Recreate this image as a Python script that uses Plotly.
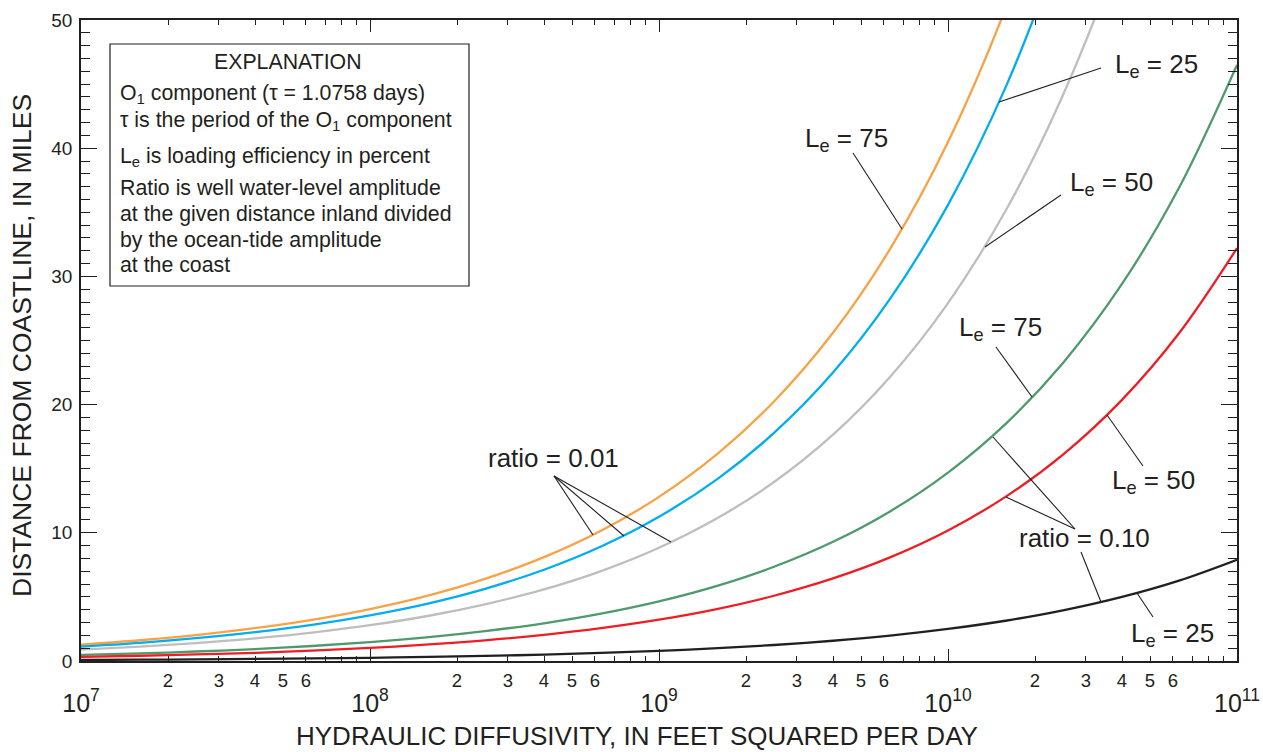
import plotly.graph_objects as go

# ---------------- data ----------------
diffusivity = [1.0e7, 1.6e7, 2.5e7, 4.0e7, 6.3e7,
               1.0e8, 1.6e8, 2.5e8, 4.0e8, 6.3e8,
               1.0e9, 1.6e9, 2.5e9, 4.0e9, 6.3e9,
               1.0e10, 1.6e10, 2.5e10, 4.0e10, 6.3e10,
               1.0e11]

r001_le75 = [1.28, 1.62, 2.02, 2.56, 3.21, 4.05, 5.12, 6.40, 8.10, 10.16, 12.80,
             16.19, 20.24, 25.60, 32.13, 40.48, 51.20, 64.00]
r001_le25 = [1.13, 1.42, 1.78, 2.25, 2.82, 3.56, 4.50, 5.63, 7.12, 8.93, 11.25,
             14.23, 17.79, 22.50, 28.24, 35.58, 45.00, 56.25]
r001_le50 = [0.88, 1.12, 1.40, 1.77, 2.22, 2.79, 3.53, 4.42, 5.58, 7.01, 8.83,
             11.17, 13.96, 17.66, 22.16, 27.92, 35.32, 44.15, 55.85, 70.09]
r010_le75 = [0.47, 0.59, 0.74, 0.93, 1.17, 1.47, 1.86, 2.33, 2.94, 3.69, 4.65,
             5.88, 7.35, 9.30, 11.67, 14.70, 18.60, 23.25, 29.41, 36.91, 46.50]
r010_le50 = [0.32, 0.41, 0.51, 0.64, 0.81, 1.02, 1.29, 1.61, 2.04, 2.56, 3.22,
             4.07, 5.09, 6.44, 8.08, 10.18, 12.88, 16.10, 20.37, 25.56, 32.20]
r010_le25 = [0.08, 0.10, 0.12, 0.16, 0.20, 0.25, 0.32, 0.40, 0.50, 0.63, 0.79,
             1.00, 1.25, 1.58, 1.98, 2.50, 3.16, 3.95, 5.00, 6.27, 7.90]

decade_vals = [1e7, 1e8, 1e9, 1e10, 1e11]
decade_text = ["10<sup>7</sup>", "10<sup>8</sup>", "10<sup>9</sup>",
               "10<sup>10</sup>", "10<sup>11</sup>"]
minor_digits = [2, 3, 4, 5, 6, 7, 8, 9]
minor_labels = ["2", "3", "4", "5", "6", "", "", ""]

# ---------------- styling ----------------
INK = "#231F20"
FONT = "Liberation Sans, Arial, Helvetica, sans-serif"
W, H = 1263, 752
L, R, T, B = 81, 26, 20, 91
PW, PH = W - L - R, H - T - B

series = [
    (r001_le75, "#F7A245"),
    (r001_le25, "#00AEEF"),
    (r001_le50, "#BEBEBE"),
    (r010_le75, "#4E9A6C"),
    (r010_le50, "#EE1D25"),
    (r010_le25, "#231F20"),
]

fig = go.Figure()
for vals, col in series:
    fig.add_trace(go.Scatter(
        x=diffusivity[:len(vals)], y=vals, mode="lines",
        line=dict(color=col, width=2.3, shape="spline", smoothing=1.0),
        showlegend=False, hoverinfo="skip"))

# helper trace for the decade axis
fig.add_trace(go.Scatter(x=[1e7, 1e11], y=[-10, -10], xaxis="x2", mode="lines",
                         line=dict(width=0), showlegend=False, hoverinfo="skip"))

minor_vals, minor_text = [], []
for d in decade_vals[:-1]:
    for k, t in zip(minor_digits, minor_labels):
        minor_vals.append(k * d)
        minor_text.append(t)


def px(x, y):
    return (x - L) / PW, (H - B - y) / PH


annotations = []
shapes = []

# explanation box
x0, y0 = px(110, 286)
x1, y1 = px(469, 44)
shapes.append(dict(type="rect", xref="paper", yref="paper", x0=x0, y0=y0, x1=x1, y1=y1,
                   line=dict(color=INK, width=1.2), fillcolor="rgba(0,0,0,0)"))

ex_font = dict(family=FONT, size=21.3, color=INK)
cx, cy = px(288, 62)
annotations.append(dict(text="EXPLANATION", x=cx, y=cy, xref="paper", yref="paper",
                        xanchor="center", yanchor="middle", showarrow=False, font=ex_font))
ex_lines = [
    ("O<sub>1</sub> component (\u03c4 = 1.0758 days)", 94),
    ("\u03c4 is the period of the O<sub>1</sub> component", 121),
    ("L<sub>e</sub> is loading efficiency in percent", 157),
    ("Ratio is well water-level amplitude", 188),
    ("at the given distance inland divided", 214),
    ("by the ocean-tide amplitude", 240),
    ("at the coast", 265),
]
for txt, yy in ex_lines:
    ax_, ay_ = px(118, yy)
    annotations.append(dict(text=txt, x=ax_, y=ay_, xref="paper", yref="paper",
                            xanchor="left", yanchor="middle", showarrow=False, font=ex_font))

# curve labels
lab_font = dict(family=FONT, size=26, color=INK)
labels = [
    ("L<sub>e</sub> = 75", 846, 139),
    ("L<sub>e</sub> = 25", 1156, 65),
    ("L<sub>e</sub> = 50", 1111, 183),
    ("ratio = 0.01", 553, 458),
    ("L<sub>e</sub> = 75", 1000, 329),
    ("L<sub>e</sub> = 50", 1153, 481),
    ("ratio = 0.10", 1084, 538),
    ("L<sub>e</sub> = 25", 1172, 634),
]
for txt, xx, yy in labels:
    ax_, ay_ = px(xx, yy)
    annotations.append(dict(text=txt, x=ax_, y=ay_, xref="paper", yref="paper",
                            xanchor="center", yanchor="middle", showarrow=False, font=lab_font))

# leader lines
leaders = [
    ((853, 153), (902, 229)),
    ((1101, 68), (999, 102)),
    ((1061, 195), (985, 247)),
    ((554, 476), (593, 535)),
    ((554, 476), (624, 536)),
    ((554, 476), (671, 542)),
    ((996, 347), (1032, 397)),
    ((1143, 466), (1107, 415)),
    ((1075, 529), (993, 437)),
    ((1075, 529), (1006, 497)),
    ((1081, 552), (1101, 602)),
    ((1153, 617), (1137, 593)),
]
for (a, b) in leaders:
    xa, ya = px(*a)
    xb, yb = px(*b)
    shapes.append(dict(type="line", xref="paper", yref="paper", x0=xa, y0=ya, x1=xb, y1=yb,
                       line=dict(color=INK, width=1.1)))

# axis titles
tx, ty = px(637, 736)
annotations.append(dict(text="HYDRAULIC DIFFUSIVITY, IN FEET SQUARED PER DAY", x=tx, y=ty,
                        xref="paper", yref="paper", xanchor="center", yanchor="middle",
                        showarrow=False, font=dict(family=FONT, size=26, color=INK)))
tx, ty = px(22, 346)
annotations.append(dict(text="DISTANCE FROM COASTLINE, IN MILES", x=tx, y=ty, textangle=-90,
                        xref="paper", yref="paper", xanchor="center", yanchor="middle",
                        showarrow=False, font=dict(family=FONT, size=26.5, color=INK)))

fig.update_layout(
    width=W, height=H,
    margin=dict(l=L, r=R, t=T, b=B, pad=0, autoexpand=False),
    paper_bgcolor="white", plot_bgcolor="white",
    font=dict(family=FONT, color=INK),
    xaxis=dict(type="log", range=[7, 11], tickmode="array", tickvals=minor_vals,
               ticktext=minor_text, ticks="inside", ticklen=5, tickwidth=1.2,
               tickcolor=INK, showline=True, linecolor=INK, linewidth=1.5,
               mirror="ticks", showgrid=False, zeroline=False, automargin=False,
               tickfont=dict(family=FONT, size=18.5, color=INK), ticklabelstandoff=2),
    xaxis2=dict(type="log", range=[7, 11], overlaying="x", anchor="y", side="bottom",
                tickmode="array", tickvals=decade_vals, ticktext=decade_text,
                ticks="inside", ticklen=12, tickwidth=1.2, tickcolor=INK,
                showline=True, linecolor=INK, linewidth=1.5, mirror="ticks",
                showgrid=False, zeroline=False, automargin=False,
                tickfont=dict(family=FONT, size=25, color=INK), ticklabelstandoff=19),
    yaxis=dict(range=[0, 50], dtick=10, tick0=0, ticks="inside", ticklen=16, tickwidth=1.2,
               tickcolor=INK, showline=True, linecolor=INK, linewidth=1.5, mirror="ticks",
               showgrid=False, zeroline=False, automargin=False,
               tickfont=dict(family=FONT, size=19, color=INK), ticklabelstandoff=3,
               minor=dict(dtick=1, tick0=0, ticks="inside", ticklen=9, tickwidth=1.2,
                          tickcolor=INK, showgrid=False)),
    shapes=shapes,
    annotations=annotations,
)

fig.write_html("out.html")
